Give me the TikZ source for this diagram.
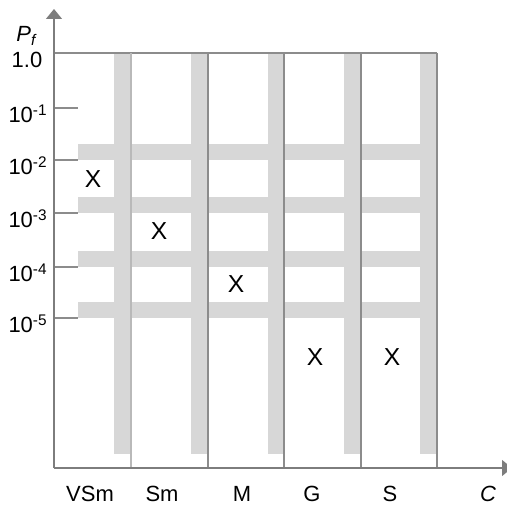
\documentclass[tikz,border=0pt]{standalone}
\usepackage{fontspec}
\setmainfont{Liberation Sans}
\usetikzlibrary{arrows.meta}
\definecolor{axiscolor}{RGB}{125,125,125}
\definecolor{bandcolor}{RGB}{215,215,215}
\definecolor{edgecolor}{RGB}{140,140,140}
\begin{document}
\begin{tikzpicture}[x=0.2mm, y=-0.2mm, font=\fontsize{12.5}{14}\selectfont,
  band/.style={fill=bandcolor},
  gridline/.style={draw=edgecolor, line width=0.25mm},
  axisline/.style={draw=axiscolor, line width=0.25mm, -{Triangle[length=2mm, width=3.2mm]}},
  crossmark/.style={font=\fontsize{14}{16}\selectfont},
  ylab/.style={anchor=base}]
\useasboundingbox (0,0) rectangle (507,506);
\fill[band] (78.00,144.00) rectangle (420.00,160.00);
\fill[band] (78.00,197.00) rectangle (420.00,213.00);
\fill[band] (78.00,251.00) rectangle (420.00,267.00);
\fill[band] (78.00,302.00) rectangle (420.00,318.00);
\fill[band] (114.00,53.00) rectangle (131.00,454.00);
\fill[band] (191.00,53.00) rectangle (208.00,454.00);
\fill[band] (268.00,53.00) rectangle (284.00,454.00);
\fill[band] (344.00,53.00) rectangle (361.00,454.00);
\fill[band] (420.00,53.00) rectangle (437.00,454.00);
\draw[gridline] (54.00,53.00) -- (437.00,53.00);
\draw[gridline, draw=bandcolor!60!edgecolor] (131.00,53.00) -- (131.00,468.00);
\draw[gridline] (208.00,53.00) -- (208.00,468.00);
\draw[gridline] (284.00,53.00) -- (284.00,468.00);
\draw[gridline] (361.00,53.00) -- (361.00,468.00);
\draw[gridline] (437.00,53.00) -- (437.00,468.00);
\draw[gridline] (54.00,108.00) -- (78.00,108.00);
\draw[gridline] (54.00,160.00) -- (78.00,160.00);
\draw[gridline] (54.00,213.00) -- (78.00,213.00);
\draw[gridline] (54.00,267.00) -- (78.00,267.00);
\draw[gridline] (54.00,318.00) -- (78.00,318.00);
\draw[axisline] (54.00,468.00) -- (54.00,9.00);
\draw[axisline] (54.00,468.00) -- (512.00,468.00);
\node[ylab] (pf) at (27.00,42.00) {\textit{P}\textsubscript{\textit{f}}};
\node[ylab] (y0) at (27.00,68.00) {1.0};
\node[ylab] (y1) at (28.00,123.00) {10\textsuperscript{-1}};
\node[ylab] (y2) at (28.00,175.00) {10\textsuperscript{-2}};
\node[ylab] (y3) at (28.00,228.00) {10\textsuperscript{-3}};
\node[ylab] (y4) at (28.00,282.00) {10\textsuperscript{-4}};
\node[ylab] (y5) at (28.00,333.00) {10\textsuperscript{-5}};
\node[ylab] (vsm) at (90.00,501.00) {VSm};
\node[ylab] (sm) at (162.00,501.00) {Sm};
\node[ylab] (m) at (242.00,501.00) {M};
\node[ylab] (g) at (312.00,501.00) {G};
\node[ylab] (s) at (390.00,501.00) {S};
\node[ylab] (c) at (488.00,501.00) {\textit{C}};
\node[crossmark] (x1) at (93.00,179.00) {X};
\node[crossmark] (x2) at (159.00,231.00) {X};
\node[crossmark] (x3) at (236.00,284.00) {X};
\node[crossmark] (x4) at (315.00,357.00) {X};
\node[crossmark] (x5) at (392.00,357.00) {X};
\end{tikzpicture}
\end{document}
